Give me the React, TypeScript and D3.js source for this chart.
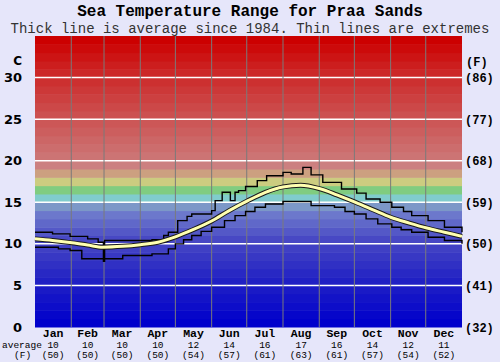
import * as d3 from "d3";

// month labels and monthly averages
const months = ["Jan", "Feb", "Mar", "Apr", "May", "Jun", "Jul", "Aug", "Sep", "Oct", "Nov", "Dec"];
const monthDays = [31, 28, 31, 30, 31, 30, 31, 31, 30, 31, 30, 31];
const avgC = [10, 10, 10, 10, 12, 14, 16, 17, 16, 14, 12, 11];
const avgF = [50, 50, 50, 50, 54, 57, 61, 63, 61, 57, 54, 52];

const cTicks = [0, 5, 10, 15, 20, 25, 30];
const fTicks = [32, 41, 50, 59, 68, 77, 86];

// thick line: average since 1984 (day of year, degC)
const avgDays = [0, 15, 30, 45, 58, 75, 90, 105, 120, 135, 151, 166, 182, 197, 212, 227, 243, 258, 274, 289, 304, 320, 335, 350, 365];
const avgTemps = [10.6, 10.4, 10.15, 9.85, 9.6, 9.7, 9.9, 10.2, 10.85, 11.7, 12.75, 14.0, 15.2, 16.2, 16.85, 17.05, 16.65, 15.9, 15.0, 14.1, 13.2, 12.5, 11.9, 11.4, 10.9];

// thin lines: extremes
const maxDays = [0, 15, 30, 45, 54, 58.5, 59.5, 100, 110, 114, 122, 130, 134, 151, 154, 160, 167, 171, 174, 180, 190, 198, 212, 219, 229, 236, 246, 262, 275, 283, 295, 305, 315, 322, 336, 350, 365];
const maxTemps = [11.4, 11.2, 10.9, 10.6, 10.2, 7.9, 10.4, 10.5, 11.0, 11.4, 12.8, 13.3, 13.6, 14.0, 15.2, 16.2, 15.2, 16.2, 16.4, 16.9, 17.6, 18.2, 18.6, 18.4, 19.2, 18.3, 17.4, 16.6, 16.1, 15.4, 15.0, 14.4, 13.9, 13.4, 12.8, 12.0, 11.4];

const minDays = [0, 20, 30, 40, 59.5, 75, 100, 114, 120, 127, 134, 142, 151, 162, 171, 180, 188, 197, 212, 236, 256, 265, 273, 283, 293, 305, 313, 322, 336, 350, 365];
const minTemps = [9.6, 9.4, 9.2, 8.2, 8.2, 8.6, 8.8, 9.4, 10.0, 10.5, 11.0, 11.5, 12.0, 12.8, 13.4, 13.9, 14.4, 14.8, 15.1, 14.6, 14.4, 13.9, 13.6, 13.0, 12.4, 12.0, 11.7, 11.4, 10.8, 10.4, 10.0];

// background colour ramp
const colorStops = [0, 5, 10, 13, 14, 15, 16, 17, 18, 19, 20, 25, 30, 34];
const colorValues = ["#0000cc", "#2020c4", "#4848c4", "#6c78cc", "#7c98c8", "#80cccc", "#80cc80", "#cccc80", "#cca080", "#cc8080", "#cc7474", "#cc5050", "#cc2828", "#cc0000"];

const W = 500, H = 362;
const left = 35, right = 462, top = 36, bottom = 327;

export default function App() {
  const x = d3.scaleLinear().domain([0, 365]).range([left, right]);
  const y = d3.scaleLinear().domain([0, 35]).range([bottom, top]);
  const color = d3.scaleLinear<string>().domain(colorStops).range(colorValues).interpolate(d3.interpolateRgb);

  const bands = d3.range(0, 35);
  const cum = [0, ...d3.cumsum(monthDays)];

  const smooth = d3.line<number>().x((d, i) => x(avgDays[i])).y(d => y(d)).curve(d3.curveMonotoneX);
  const stepMax = d3.line<number>().x((d, i) => x(maxDays[i])).y(d => y(d)).curve(d3.curveStepAfter);
  const stepMin = d3.line<number>().x((d, i) => x(minDays[i])).y(d => y(d)).curve(d3.curveStepAfter);

  const mono = "'Liberation Mono', 'DejaVu Sans Mono', monospace";

  return (
    <svg width={W} height={H} style={{ display: "block", position: "absolute", left: 0, top: 0 }}>
      <rect x={0} y={0} width={W} height={H} fill="#e6e6fa" />
      <text x={W / 2} y={16} textAnchor="middle" fontFamily={mono} fontWeight="bold" fontSize={16}>
        Sea Temperature Range for Praa Sands
      </text>
      <text x={W / 2} y={32.5} textAnchor="middle" fontFamily={mono} fontSize={14} fill="#333">
        Thick line is average since 1984. Thin lines are extremes
      </text>

      {bands.map(b => (
        <rect key={b} x={left} y={y(b + 1)} width={right - left} height={y(b) - y(b + 1) + 0.5} fill={color(b)} />
      ))}

      {cTicks.slice(1).map(t => (
        <line key={t} x1={left} x2={right} y1={y(t)} y2={y(t)} stroke="#ffffff" strokeWidth={1.5} />
      ))}
      {cum.slice(1, 12).map(c => (
        <line key={c} x1={x(c)} x2={x(c)} y1={top} y2={bottom} stroke="#7a7a7a" strokeWidth={1} />
      ))}

      <path d={stepMax(maxTemps) || ""} fill="none" stroke="#000" strokeWidth={1.4} />
      <path d={stepMin(minTemps) || ""} fill="none" stroke="#000" strokeWidth={1.4} />
      <path d={smooth(avgTemps) || ""} fill="none" stroke="#1a1a1a" strokeWidth={5} />
      <path d={smooth(avgTemps) || ""} fill="none" stroke="#ffffb0" strokeWidth={3} />

      <text x={22} y={65} textAnchor="end" fontFamily="'DejaVu Sans', sans-serif" fontWeight="bold" fontSize={12}>C</text>
      {cTicks.map(t => (
        <text key={t} x={22} y={y(t) + 4.5} textAnchor="end" fontFamily="'DejaVu Sans', sans-serif" fontWeight="bold" fontSize={13}>
          {t}
        </text>
      ))}
      <text x={466} y={66} fontFamily={mono} fontWeight="bold" fontSize={12}>(F)</text>
      {fTicks.map((f, i) => (
        <text key={f} x={465} y={y(cTicks[i]) + 4.5} fontFamily={mono} fontWeight="bold" fontSize={12}>
          ({f})
        </text>
      ))}

      {months.map((m, i) => {
        const cx = x((cum[i] + cum[i + 1]) / 2);
        return (
          <g key={m}>
            <text x={cx} y={337} textAnchor="middle" fontFamily={mono} fontWeight="bold" fontSize={11.5}>{m}</text>
            <text x={cx} y={347.5} textAnchor="middle" fontFamily={mono} fontSize={9.5}>{avgC[i]}</text>
            <text x={cx} y={358} textAnchor="middle" fontFamily={mono} fontSize={9.5}>({avgF[i]})</text>
          </g>
        );
      })}
      <text x={2} y={347.5} fontFamily={mono} fontSize={9.5}>average</text>
      <text x={14} y={358} fontFamily={mono} fontSize={9.5}>(F)</text>
    </svg>
  );
}
